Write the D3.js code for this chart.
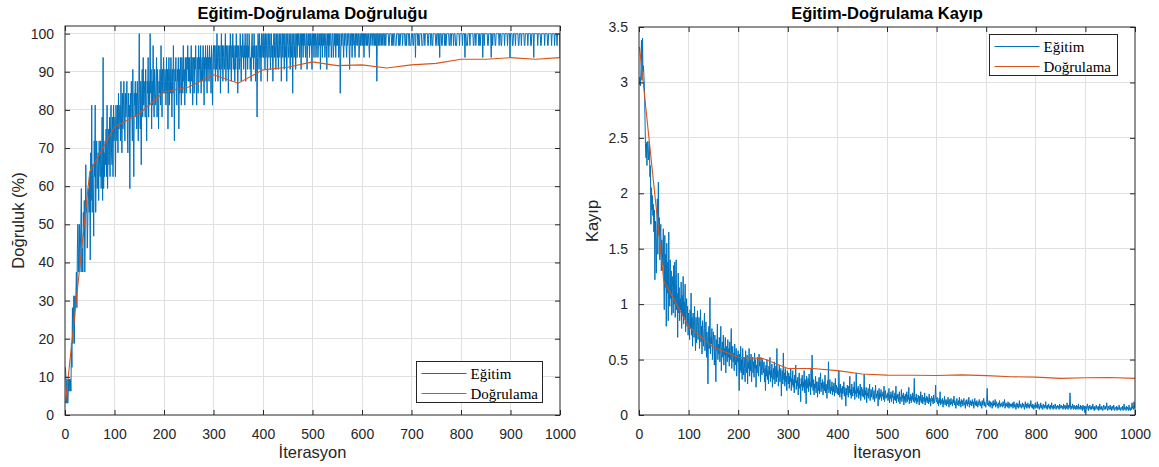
<!DOCTYPE html>
<html>
<head>
<meta charset="utf-8">
<script src="https://cdn.jsdelivr.net/npm/d3@7"></script>
<style>
  html, body { margin: 0; padding: 0; background: #fff; }
  svg { display: block; }
</style>
</head>
<body>
<svg id="chart" width="1159" height="467"></svg>
<script>
// ---------------- DATA ----------------
const batchSize = 32;
// correct predictions per mini-batch (of 32), iterations 1..1000
const trainAccHits = [
4,3,1,3,1,1,3,2,3,2, 3,2,6,4,9,6,8,10,6,10, 9,10,12,9,14,16,12,14,16,12, 14,16,19,12,14,12,17,15,18,12, 16,21,17,18,14,16,19,18,17,20,
13,22,18,26,17,21,19,15,23,20, 26,17,21,23,19,20,22,18,23,21, 20,23,19,21,25,18,30,19,22,20, 23,21,24,20,26,19,22,24,21,25, 20,24,26,22,21,25,20,26,23,24,
25,20,26,24,23,26,22,27,24,25, 26,23,28,25,22,27,24,26,28,25, 23,27,25,26,28,24,22,27,25,26, 19,27,25,28,26,23,29,24,20,27, 26,28,25,27,24,28,26,23,27,32,
26,24,28,21,27,29,25,30,26,28, 27,25,29,26,23,28,27,30,25,28, 26,32,27,29,24,28,26,31,27,25, 29,27,26,28,30,25,29,27,24,28, 27,29,26,31,28,25,29,27,30,28,
27,29,28,26,30,27,29,24,28,30, 26,29,27,30,28,25,29,27,31,28, 23,29,28,30,27,26,29,28,30,24, 29,27,30,28,26,30,29,27,31,28, 29,26,30,28,27,30,29,31,28,30,
28,30,27,29,31,28,30,26,29,30, 27,30,29,31,28,26,30,29,27,31, 29,30,28,31,27,29,30,28,31,29, 26,30,29,31,28,30,27,31,29,30, 28,31,29,30,27,31,29,26,30,31,
29,31,30,28,31,29,32,30,28,31, 30,29,31,27,30,32,29,31,28,30, 31,29,30,32,28,31,30,29,31,27, 30,31,29,32,30,28,31,30,32,29, 31,30,28,31,29,32,30,31,27,30,
31,29,30,32,30,28,31,30,32,31, 29,31,30,32,28,31,30,32,29,31, 30,32,31,29,30,28,31,32,30,31, 29,32,30,31,28,30,31,25,30,32, 31,29,32,30,31,28,32,30,31,32,
30,32,31,29,32,30,31,32,28,31, 32,30,31,32,29,31,32,30,31,28, 31,32,30,32,31,29,32,31,30,32, 29,31,32,30,31,32,28,31,32,30, 32,31,29,32,30,31,32,28,31,32,
31,30,32,31,29,32,31,30,32,27, 31,32,30,31,32,29,31,32,30,32, 31,32,32,30,31,32,29,32,31,32, 30,32,31,32,31,30,32,32,29,31, 32,31,32,30,32,31,32,31,29,32,
31,32,30,32,31,32,30,31,32,32, 30,31,32,31,32,29,32,31,32,30, 32,31,32,32,30,31,32,31,29,32, 31,32,30,32,31,32,32,30,31,32, 32,30,31,32,31,32,30,32,31,32,
31,32,30,31,32,27,30,32,31,32, 32,31,30,32,31,32,32,31,30,32, 31,32,32,31,29,32,31,32,32,30, 32,31,32,32,31,30,32,31,32,32, 31,32,32,30,31,32,31,32,32,31,
32,31,32,30,32,31,32,32,31,32, 31,32,32,31,30,32,32,31,32,32, 32,31,32,32,31,32,31,32,32,28, 32,32,31,32,32,31,32,32,31,32, 32,31,32,32,31,32,32,31,32,32,
32,32,32,31,31,32,32,32,32,31, 31,32,31,32,32,32,31,31,31,32, 32,32,32,31,32,31,31,32,32,32, 32,31,32,32,32,32,31,31,32,31, 32,32,32,32,31,32,31,31,31,32,
32,32,31,31,32,32,32,30,32,32, 32,32,31,32,31,31,32,32,32,32, 31,31,31,32,32,32,31,32,32,32, 32,32,31,31,32,32,32,32,31,32, 32,31,31,32,32,32,32,32,31,31,
32,32,32,31,32,32,30,32,32,32, 31,31,32,32,32,32,31,32,31,31, 32,32,32,32,32,31,31,32,32,31, 32,32,32,32,31,32,32,32,31,31, 31,32,32,32,32,32,31,32,32,32,
32,32,31,32,32,32,32,30,32,32, 31,31,31,32,32,32,32,31,32,32, 32,32,32,32,31,31,32,32,32,31, 32,32,32,32,32,31,32,31,31,32, 32,32,32,30,32,32,31,32,32,32,
32,32,32,31,31,32,32,32,32,32, 30,32,32,31,32,32,32,32,31,31, 32,32,32,32,32,32,31,32,32,32, 31,31,32,32,32,32,32,31,32,32, 32,32,32,31,32,32,32,32,30,32,
32,32,32,31,31,32,32,32,32,31, 32,32,32,32,32,31,31,32,32,32, 32,31,32,32,32,32,32,31,31,32, 32,32,32,32,31,32,32,32,32,32, 31,31,32,32,32,32,30,32,32,32,
32,32,32,32,31,32,32,32,32,32, 31,31,32,32,32,32,32,32,31,32, 32,32,32,32,31,31,32,32,32,32, 32,32,31,32,32,32,32,32,31,32, 32,32,32,31,32,32,32,32,32,30
];
// training loss per iteration 1..1000
const trainLoss = [
2.98,3.05,2.97,3.12,3.38,3.02,3.40,3.10,3.15,3.05, 2.95,2.70,2.45,2.32,2.46,2.25,2.42,2.47,2.30,2.38, 2.45,2.15,2.25,1.72,2.05,1.85,1.98,1.80,1.90,1.65, 1.85,1.22,1.75,1.55,1.28,1.68,1.95,1.45,2.10,1.62, 1.78,1.40,1.65,1.72,1.30,1.58,1.48,1.35,1.68,1.25,
0.95,1.62,1.15,1.45,0.80,1.55,1.10,1.38,0.85,1.65, 1.20,0.98,1.40,1.05,1.30,0.90,1.25,1.15,0.92,1.35, 1.00,1.38,0.88,1.22,1.40,0.95,1.10,0.70,1.28,0.92, 1.15,0.85,1.05,0.95,1.20,0.78,1.08,0.90,1.25,0.82, 1.02,0.88,1.18,0.75,0.95,1.05,0.80,0.98,0.72,0.92,
0.85,0.68,0.95,0.78,1.10,0.72,0.88,0.62,0.92,0.80, 0.70,0.98,0.75,0.58,0.88,0.65,0.82,0.94,0.68,0.77, 0.88,0.60,0.72,0.95,0.66,0.80,0.55,0.85,0.70,0.62, 0.78,0.92,0.58,0.70,0.84,0.52,0.75,0.65,0.28,0.72, 0.80,0.60,1.06,0.55,0.70,0.64,0.78,0.50,0.68,0.75,
0.62,0.45,0.72,0.55,0.30,0.68,0.58,0.82,0.50,0.64, 0.55,0.70,0.48,0.62,0.80,0.40,0.58,0.66,0.52,0.72, 0.45,0.60,0.54,0.70,0.38,0.62,0.56,0.48,0.68,0.52, 0.60,0.44,0.66,0.50,0.58,0.78,0.42,0.55,0.62,0.48, 0.56,0.40,0.64,0.50,0.45,0.60,0.35,0.54,0.48,0.58,
0.45,0.22,0.55,0.40,0.62,0.38,0.50,0.32,0.60,0.44, 0.36,0.52,0.42,0.30,0.58,0.46,0.38,0.54,0.28,0.48, 0.42,0.60,0.35,0.50,0.40,0.55,0.30,0.46,0.52,0.38, 0.48,0.34,0.56,0.42,0.50,0.25,0.45,0.38,0.52,0.40, 0.35,0.55,0.44,0.48,0.30,0.52,0.40,0.36,0.50,0.42,
0.38,0.48,0.30,0.42,0.22,0.45,0.35,0.50,0.32,0.40, 0.28,0.44,0.36,0.52,0.30,0.40,0.34,0.46,0.25,0.38, 0.42,0.32,0.48,0.28,0.36,0.44,0.30,0.60,0.34,0.40, 0.26,0.38,0.45,0.30,0.35,0.42,0.17,0.36,0.40,0.28, 0.56,0.32,0.38,0.26,0.42,0.30,0.35,0.22,0.40,0.33,
0.28,0.38,0.24,0.35,0.30,0.42,0.22,0.33,0.27,0.40, 0.25,0.32,0.20,0.36,0.29,0.45,0.23,0.31,0.26,0.34, 0.18,0.30,0.38,0.24,0.28,0.12,0.33,0.26,0.36,0.22, 0.30,0.25,0.40,0.20,0.32,0.27,0.10,0.35,0.24,0.29, 0.33,0.21,0.37,0.26,0.30,0.18,0.42,0.25,0.54,0.28,
0.22,0.32,0.18,0.28,0.24,0.35,0.20,0.30,0.26,0.16, 0.30,0.22,0.34,0.19,0.27,0.38,0.21,0.29,0.24,0.32, 0.18,0.26,0.30,0.22,0.36,0.20,0.28,0.24,0.15,0.31, 0.23,0.48,0.20,0.27,0.32,0.19,0.25,0.22,0.30,0.18, 0.26,0.21,0.29,0.17,0.24,0.33,0.20,0.27,0.22,0.19,
0.25,0.18,0.40,0.22,0.16,0.28,0.20,0.24,0.14,0.26, 0.19,0.23,0.30,0.17,0.25,0.21,0.08,0.24,0.18,0.27, 0.22,0.16,0.26,0.20,0.35,0.18,0.23,0.15,0.28,0.21, 0.17,0.25,0.20,0.30,0.14,0.22,0.19,0.38,0.16,0.24, 0.20,0.26,0.15,0.22,0.18,0.28,0.13,0.21,0.25,0.17,
0.23,0.16,0.20,0.37,0.14,0.22,0.18,0.25,0.11,0.20, 0.17,0.24,0.15,0.21,0.28,0.13,0.19,0.23,0.16,0.21, 0.25,0.14,0.18,0.22,0.12,0.20,0.27,0.15,0.19,0.17, 0.22,0.08,0.18,0.24,0.14,0.20,0.16,0.23,0.13,0.19, 0.17,0.21,0.14,0.26,0.12,0.19,0.22,0.15,0.18,0.16,
0.20,0.13,0.17,0.24,0.11,0.18,0.15,0.21,0.12,0.19, 0.16,0.22,0.10,0.17,0.14,0.20,0.13,0.26,0.11,0.18, 0.15,0.19,0.12,0.17,0.21,0.10,0.16,0.14,0.23,0.12, 0.18,0.15,0.20,0.09,0.17,0.13,0.19,0.11,0.16,0.21, 0.12,0.18,0.14,0.25,0.10,0.16,0.13,0.19,0.11,0.17,
0.14,0.20,0.12,0.17,0.33,0.11,0.16,0.13,0.19,0.10, 0.15,0.12,0.18,0.14,0.09,0.17,0.13,0.21,0.11,0.15, 0.18,0.10,0.14,0.16,0.12,0.20,0.09,0.15,0.13,0.17, 0.11,0.16,0.14,0.10,0.19,0.12,0.15,0.08,0.14,0.17, 0.12,0.15,0.10,0.18,0.13,0.11,0.16,0.27,0.14,0.12,
0.16,0.10,0.13,0.08,0.15,0.11,0.21,0.09,0.14,0.12, 0.10,0.15,0.07,0.13,0.11,0.17,0.09,0.12,0.14,0.08, 0.13,0.10,0.16,0.11,0.07,0.14,0.12,0.09,0.15,0.10, 0.12,0.08,0.14,0.11,0.17,0.09,0.13,0.10,0.06,0.12, 0.15,0.09,0.11,0.13,0.08,0.16,0.10,0.12,0.07,0.14,
0.10,0.13,0.08,0.12,0.15,0.09,0.11,0.06,0.13,0.10, 0.14,0.08,0.12,0.10,0.16,0.07,0.11,0.13,0.09,0.12, 0.08,0.14,0.10,0.12,0.06,0.11,0.15,0.09,0.12,0.08, 0.13,0.10,0.07,0.12,0.09,0.14,0.11,0.08,0.12,0.10, 0.06,0.13,0.09,0.11,0.15,0.08,0.12,0.10,0.07,0.11,
0.12,0.24,0.09,0.11,0.08,0.13,0.10,0.07,0.12,0.09, 0.11,0.06,0.10,0.13,0.08,0.11,0.09,0.14,0.07,0.10, 0.12,0.08,0.10,0.06,0.11,0.09,0.13,0.07,0.10,0.08, 0.11,0.09,0.07,0.12,0.08,0.10,0.14,0.06,0.09,0.11, 0.08,0.10,0.07,0.12,0.09,0.06,0.11,0.08,0.10,0.07,
0.10,0.08,0.11,0.06,0.09,0.12,0.07,0.10,0.08,0.05, 0.09,0.11,0.07,0.10,0.06,0.09,0.13,0.07,0.10,0.08, 0.06,0.09,0.11,0.07,0.10,0.08,0.05,0.09,0.12,0.07, 0.10,0.06,0.08,0.11,0.07,0.09,0.06,0.10,0.08,0.13, 0.07,0.09,0.06,0.10,0.08,0.05,0.09,0.07,0.11,0.06,
0.09,0.07,0.12,0.06,0.08,0.10,0.05,0.08,0.07,0.11, 0.06,0.09,0.07,0.05,0.10,0.08,0.06,0.09,0.07,0.12, 0.06,0.08,0.05,0.09,0.07,0.10,0.06,0.08,0.05,0.09, 0.07,0.11,0.06,0.08,0.05,0.09,0.07,0.06,0.10,0.08, 0.05,0.08,0.07,0.09,0.06,0.08,0.05,0.10,0.07,0.06,
0.09,0.07,0.06,0.08,0.05,0.10,0.07,0.06,0.09,0.05, 0.08,0.06,0.11,0.07,0.05,0.09,0.06,0.08,0.20,0.07, 0.05,0.08,0.06,0.10,0.07,0.05,0.09,0.06,0.08,0.05, 0.07,0.09,0.05,0.08,0.06,0.10,0.05,0.07,0.06,0.09, 0.05,0.08,0.06,0.04,0.09,0.07,0.05,0.08,0.02,0.06,
0.08,0.05,0.07,0.10,0.06,0.04,0.08,0.06,0.09,0.05, 0.07,0.05,0.08,0.06,0.10,0.05,0.07,0.04,0.08,0.06, 0.05,0.09,0.06,0.07,0.05,0.08,0.04,0.06,0.10,0.05, 0.07,0.05,0.08,0.06,0.04,0.07,0.09,0.05,0.06,0.08, 0.05,0.07,0.11,0.06,0.04,0.08,0.06,0.05,0.07,0.09,
0.05,0.07,0.04,0.08,0.06,0.05,0.09,0.06,0.04,0.07, 0.06,0.05,0.08,0.04,0.07,0.06,0.05,0.09,0.05,0.06, 0.04,0.07,0.06,0.05,0.08,0.04,0.06,0.10,0.05,0.07, 0.06,0.04,0.08,0.05,0.07,0.06,0.04,0.09,0.05,0.06, 0.04,0.07,0.05,0.11,0.06,0.08,0.05,0.12,0.07,0.06
];
// validation checkpoints
const valIter = [1,50,100,150,200,250,300,350,400,450,500,550,600,650,700,750,800,850,900,950,1000];
const valAcc  = [3.1,63.8,75.5,79.0,84.7,86.0,89.2,87.0,90.5,91.2,92.6,91.6,91.8,91.0,91.8,92.2,93.3,93.3,93.7,93.3,93.7];
const valLoss = [3.32,1.21,0.80,0.61,0.52,0.51,0.42,0.42,0.40,0.37,0.36,0.358,0.356,0.362,0.355,0.345,0.342,0.33,0.336,0.338,0.33];

const xTicks = [0,100,200,300,400,500,600,700,800,900,1000];
const accTicks = [0,10,20,30,40,50,60,70,80,90,100];
const lossTicks = [0,0.5,1,1.5,2,2.5,3,3.5];
const seriesNames = ["Eğitim", "Doğrulama"];
const titles = ["Eğitim-Doğrulama Doğruluğu", "Eğitim-Doğrulama Kayıp"];
const yLabels = ["Doğruluk (%)", "Kayıp"];
const xLabel = "İterasyon";

// ---------------- DRAW ----------------
const svg = d3.select("#chart");
const blue = "#0072BD", orange = "#D95319", axisCol = "#262626", gridCol = "#e0e0e0";
const seriesColors = [blue, orange];
const sansFont = "'Liberation Sans', Arial, Helvetica, sans-serif";
const serifFont = "'Liberation Serif', 'Times New Roman', serif";

const trainIter = trainLoss.map((d, i) => i + 1);
const trainAcc = trainAccHits.map(k => k / batchSize * 100);
const legendLayer = [];

function panel(opt) {
  const {id, left, right, top, bottom, yDomain, yTicks, yFmt, title, yLabel, train, val, legend} = opt;
  const x = d3.scaleLinear().domain([0, 1000]).range([left, right]);
  const y = d3.scaleLinear().domain(yDomain).range([bottom, top]);
  const g = svg.append("g");

  // grid
  g.append("g").selectAll("line").data(xTicks.filter(t => t > 0 && t < 1000)).join("line")
    .attr("x1", d => x(d)).attr("x2", d => x(d)).attr("y1", top).attr("y2", bottom)
    .attr("stroke", gridCol).attr("stroke-width", 1).attr("shape-rendering", "crispEdges");
  g.append("g").selectAll("line").data(yTicks.filter(t => y(t) > top + 0.5 && t > yDomain[0])).join("line")
    .attr("x1", left).attr("x2", right).attr("y1", d => y(d)).attr("y2", d => y(d))
    .attr("stroke", gridCol).attr("stroke-width", 1).attr("shape-rendering", "crispEdges");

  // data
  const clipId = "clip-" + id;
  svg.append("defs").append("clipPath").attr("id", clipId).append("rect")
    .attr("x", left).attr("y", top).attr("width", right - left).attr("height", bottom - top);
  const lineGen = d3.line().x(d => x(d[0])).y(d => y(d[1]));
  const dg = g.append("g").attr("clip-path", `url(#${clipId})`);
  dg.append("path").datum(trainIter.map((it, i) => [it, train[i]]))
    .attr("d", lineGen).attr("fill", "none").attr("stroke", blue).attr("stroke-width", 1);
  dg.append("path").datum(valIter.map((it, i) => [it, val[i]]))
    .attr("d", lineGen).attr("fill", "none").attr("stroke", orange).attr("stroke-width", 1.1);

  // axes (box with inward ticks on all sides)
  const tl = 5;
  const xb = d3.axisBottom(x).tickValues(xTicks).tickSize(-tl).tickPadding(tl + 9).tickFormat(d3.format("d"));
  const xt = d3.axisTop(x).tickValues(xTicks).tickSize(-tl).tickFormat("");
  const yl = d3.axisLeft(y).tickValues(yTicks).tickSize(-tl).tickPadding(tl + 6).tickFormat(yFmt);
  const yr = d3.axisRight(y).tickValues(yTicks).tickSize(-tl).tickFormat("");
  const styleAxis = sel => {
    sel.selectAll(".domain").remove();
    sel.selectAll("line").attr("stroke", axisCol);
    sel.selectAll("text").attr("fill", axisCol).attr("font-family", sansFont).attr("font-size", 14);
  };
  g.append("g").attr("transform", `translate(0,${bottom})`).call(xb).call(styleAxis);
  g.append("g").attr("transform", `translate(0,${top})`).call(xt).call(styleAxis);
  g.append("g").attr("transform", `translate(${left},0)`).call(yl).call(styleAxis);
  g.append("g").attr("transform", `translate(${right},0)`).call(yr).call(styleAxis);
  g.append("rect").attr("x", left).attr("y", top).attr("width", right - left).attr("height", bottom - top)
    .attr("fill", "none").attr("stroke", axisCol).attr("stroke-width", 1);

  // title & labels
  svg.append("text").attr("x", (left + right) / 2).attr("y", 18.5).attr("text-anchor", "middle")
    .attr("font-family", sansFont).attr("font-weight", "bold").attr("font-size", 16.5).attr("fill", "#000")
    .text(title);
  svg.append("text").attr("x", (left + right) / 2).attr("y", 458).attr("text-anchor", "middle")
    .attr("font-family", sansFont).attr("font-size", 16.5).attr("fill", axisCol).text(xLabel);
  svg.append("text").attr("transform", `translate(${left - 41},${(top + bottom) / 2}) rotate(-90)`)
    .attr("text-anchor", "middle").attr("font-family", sansFont).attr("font-size", 16.5).attr("fill", axisCol)
    .text(yLabel);

  legendLayer.push(legend);
}

function drawLegend(legend) {
  const lg = svg.append("g").attr("transform", `translate(${legend.x},${legend.y})`);
  lg.append("rect").attr("x", 0).attr("y", 0).attr("width", legend.w).attr("height", legend.h)
    .attr("fill", "#ffffff").attr("stroke", axisCol).attr("stroke-width", 1);
  const items = lg.selectAll("g.item").data(seriesNames.map((n, i) => ({name: n, color: seriesColors[i], i})))
    .join("g").attr("class", "item").attr("transform", d => `translate(0,${12 + d.i * 20})`);
  items.append("line").attr("x1", 5).attr("x2", 50).attr("y1", 0).attr("y2", 0)
    .attr("stroke", d => d.color).attr("stroke-width", 1.2);
  items.append("text").attr("x", 54).attr("y", 5).attr("font-family", serifFont)
    .attr("font-size", 15).attr("fill", "#000").text(d => d.name);
}

panel({
  id: "acc", left: 65, right: 560, top: 26, bottom: 415, yDomain: [0, 102], yTicks: accTicks, yFmt: d3.format("d"),
  title: titles[0], yLabel: yLabels[0], train: trainAcc, val: valAcc,
  legend: {x: 416.5, y: 361.5, w: 126, h: 41}
});
panel({
  id: "loss", left: 639, right: 1135, top: 27, bottom: 415, yDomain: [0, 3.5], yTicks: lossTicks, yFmt: d => String(d),
  title: titles[1], yLabel: yLabels[1], train: trainLoss, val: valLoss,
  legend: {x: 989.5, y: 34.5, w: 128, h: 41}
});
legendLayer.forEach(drawLegend);
</script>
</body>
</html>
